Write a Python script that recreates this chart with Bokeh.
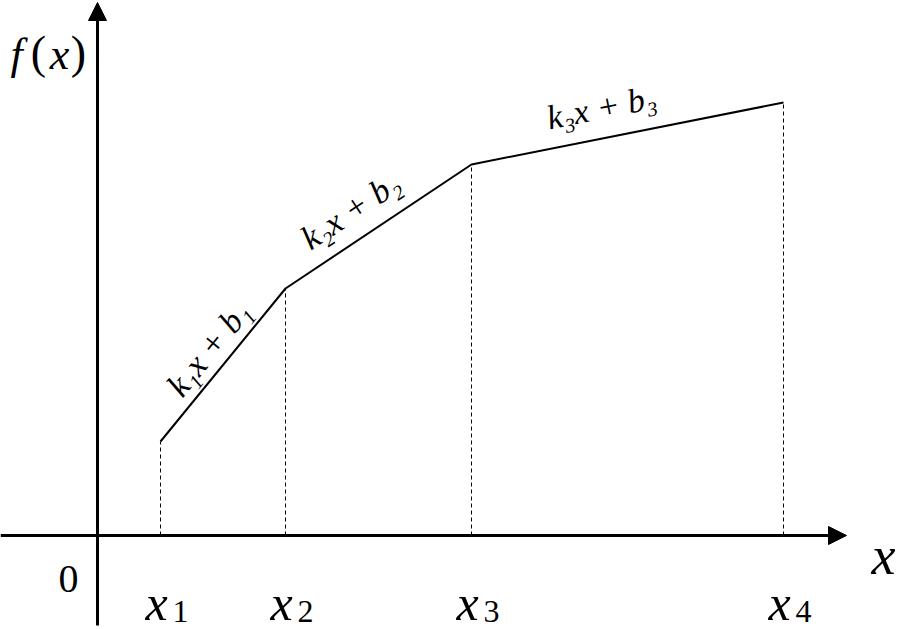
import math
from bokeh.plotting import figure
from bokeh.models import Range1d, Arrow, NormalHead
from bokeh.core.properties import value
from bokeh.embed import file_html
from bokeh.resources import INLINE

# ---- data (units: 1 unit = 10 px of the reference) ----
x_breaks = [6.3, 18.8, 37.4, 68.6]
f_vals = [9.4, 24.7, 37.1, 43.3]
tick_subs = ["1", "2", "3", "4"]
seg_labels = ["k\u2081x + b\u2081", "k\u2082x + b\u2082", "k\u2083x + b\u2083"]
# label offsets (along segment, normal to segment), in px
seg_label_offsets = [(3.6, 21.6), (-14.4, 28.8), (-20.4, 30.6)]

SERIF = value("Liberation Serif")
PX = 10.0  # px per unit

W, H = 901, 629
p = figure(width=W, height=H, output_backend="svg", toolbar_location=None,
           x_range=Range1d(-9.7, (W - 97) / PX), y_range=Range1d((535 - H) / PX, 53.5),
           min_border=0, outline_line_color=None, background_fill_color="white")
p.axis.visible = False
p.grid.visible = False

# axes with arrows
p.add_layout(Arrow(end=NormalHead(size=18, fill_color="black", line_color="black", line_width=1),
                   x_start=-9.7, y_start=0, x_end=74.9, y_end=0,
                   line_width=3, line_color="black"))
p.add_layout(Arrow(end=NormalHead(size=18, fill_color="black", line_color="black", line_width=1),
                   x_start=0, y_start=-9.0, x_end=0, y_end=53.3,
                   line_width=3, line_color="black"))

# dashed drop lines
p.segment(x0=x_breaks, y0=[0] * len(x_breaks), x1=x_breaks, y1=f_vals,
          line_color="black", line_width=1, line_dash="4 3")

# piecewise line
p.line(x_breaks, f_vals, line_color="black", line_width=2)

# segment labels
lx, ly, la = [], [], []
for i in range(len(x_breaks) - 1):
    dx = x_breaks[i + 1] - x_breaks[i]
    dy = f_vals[i + 1] - f_vals[i]
    L = math.hypot(dx, dy)
    ux, uy = dx / L, dy / L
    nx, ny = -uy, ux
    a, n = seg_label_offsets[i]
    mx = (x_breaks[i] + x_breaks[i + 1]) / 2
    my = (f_vals[i] + f_vals[i + 1]) / 2
    lx.append(mx + (a * ux + n * nx) / PX)
    ly.append(my + (a * uy + n * ny) / PX)
    la.append(math.atan2(dy, dx))
p.text(x=lx, y=ly, text=seg_labels, angle=la, text_font=SERIF,
       text_font_style="italic", text_font_size="34px",
       text_align="center", text_baseline="middle", text_color="black")

# tick labels x_i
p.text(x=x_breaks, y=[-6.7] * 4, text=["x"] * 4, x_offset=-4, text_font=SERIF,
       text_font_style="italic", text_font_size="50px",
       text_align="center", text_baseline="alphabetic", text_color="black")
p.text(x=x_breaks, y=[-7.6] * 4, text=tick_subs, x_offset=12, text_font=SERIF,
       text_font_size="32px", text_align="left", text_baseline="alphabetic",
       text_color="black")

# origin label
p.text(x=[-2.9], y=[-4.3], text=["0"], text_font=SERIF, text_font_size="40px",
       text_align="center", text_baseline="alphabetic", text_color="black")

# x axis name
p.text(x=[78.6], y=[-2.0], text=["x"], text_font=SERIF, text_font_style="italic",
       text_font_size="54px", text_align="center", text_baseline="alphabetic",
       text_color="black")

# f(x) axis name
p.text(x=[-8.1], y=[48.1], text=["f"], text_font=SERIF, text_font_style="italic",
       text_font_size="44px", text_align="center", text_baseline="alphabetic")
p.text(x=[-5.9, -1.9], y=[48.3, 48.3], text=["(", ")"], text_font=SERIF,
       text_font_size="46px", text_align="center", text_baseline="alphabetic")
p.text(x=[-3.8], y=[48.1], text=["x"], text_font=SERIF, text_font_style="italic",
       text_font_size="44px", text_align="center", text_baseline="alphabetic")

open("out.html", "w").write(file_html(p, INLINE))
